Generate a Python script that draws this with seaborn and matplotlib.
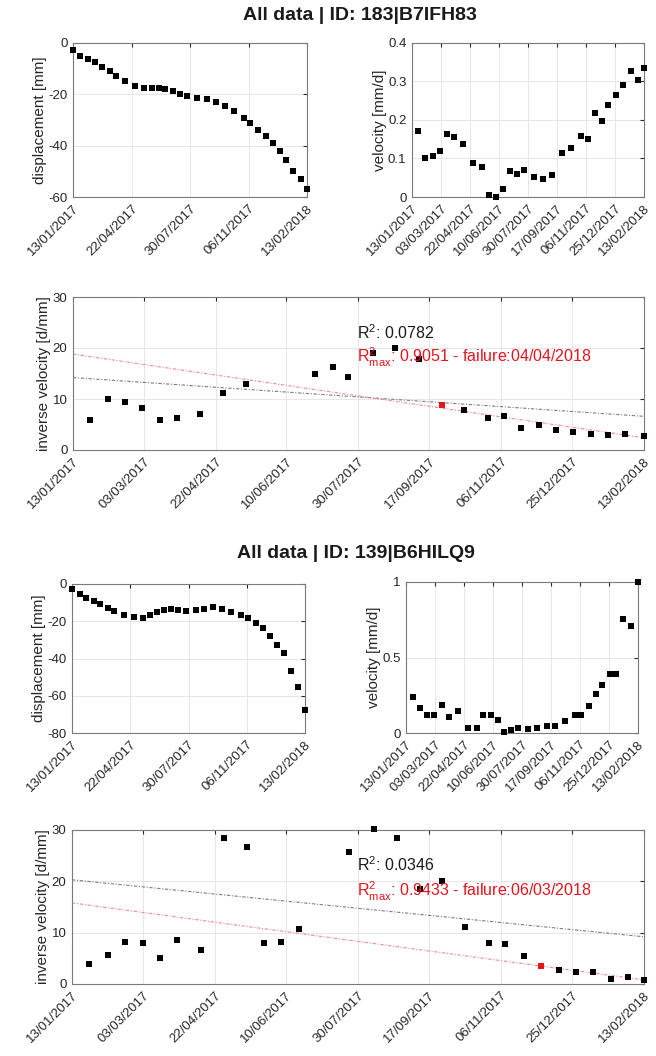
import numpy as np
import pandas as pd
import matplotlib
matplotlib.use('Agg')
import matplotlib.pyplot as plt
from matplotlib.ticker import StrMethodFormatter
import seaborn as sns

start = pd.Timestamp('2017-01-13')
end = pd.Timestamp('2018-02-13')

ticks_disp = ['13/01/2017', '22/04/2017', '30/07/2017', '06/11/2017', '13/02/2018']
ticks_vel = ['13/01/2017', '03/03/2017', '22/04/2017', '10/06/2017', '30/07/2017',
             '17/09/2017', '06/11/2017', '25/12/2017', '13/02/2018']

# ---- ID 183|B7IFH83 (days after 13/01/2017)
disp1_days = [0, 12, 25, 38, 49, 62, 73, 88, 105, 120, 133, 145, 156, 169, 181, 193,
              209, 226, 242, 257, 273, 290, 300, 313, 326, 339, 350, 361, 373, 386, 396]
disp1_vals = [-2.8, -5.2, -6.2, -7.5, -9.3, -11.1, -12.9, -15.0, -16.6, -17.7, -17.7,
              -17.6, -18.0, -18.6, -19.7, -20.6, -21.3, -22.0, -22.9, -24.6, -26.5,
              -29.2, -31.3, -33.8, -36.2, -39.1, -41.9, -45.5, -49.7, -53.0, -56.9]
vel1_days = [10, 23, 35, 47, 59, 72, 87, 104, 119, 132, 144, 156, 167, 179, 192, 208,
             223, 239, 256, 272, 289, 300, 312, 324, 335, 348, 360, 373, 385, 396]
vel1_vals = [0.172, 0.100, 0.107, 0.119, 0.163, 0.155, 0.137, 0.088, 0.078, 0.004,
             0.000, 0.022, 0.068, 0.061, 0.069, 0.052, 0.048, 0.057, 0.113, 0.126,
             0.158, 0.151, 0.218, 0.198, 0.240, 0.266, 0.290, 0.326, 0.305, 0.334]
inv1_days = [12, 24, 36, 48, 60, 72, 88, 104, 120, 168, 180, 191, 208, 223, 240, 256,
             271, 288, 299, 311, 323, 335, 347, 359, 371, 383, 396]
inv1_vals = [5.8, 10.0, 9.4, 8.2, 5.9, 6.3, 7.1, 11.1, 12.9, 14.9, 16.3, 14.3, 19.1,
             20.0, 17.8, 8.8, 7.8, 6.3, 6.7, 4.4, 4.9, 3.9, 3.6, 3.2, 2.9, 3.1, 2.8]
inv1_red = (256, 8.8)
fit1_all = [14.2, 6.6]     # at 13/01/2017 and 13/02/2018
fit1_max = [18.8, 2.4]
r2_1 = '0.0782'
r2max_1 = '0.9051'
failure_1 = '04/04/2018'

# ---- ID 139|B6HILQ9
disp2_days = [0, 13, 24, 37, 48, 61, 72, 88, 105, 121, 132, 144, 156, 168, 181, 193,
              210, 225, 239, 255, 270, 287, 299, 312, 324, 336, 349, 360, 372, 384, 396]
disp2_vals = [-2.8, -5.3, -7.6, -9.1, -10.7, -13.0, -14.4, -16.7, -17.8, -18.1, -16.7,
              -14.8, -13.9, -13.5, -13.9, -14.6, -13.9, -13.5, -12.6, -13.5, -14.8,
              -16.9, -18.5, -21.0, -23.8, -27.7, -32.7, -37.3, -46.6, -55.1, -67.7]
vel2_days = [12, 24, 36, 48, 61, 73, 88, 105, 121, 132, 145, 157, 167, 180, 192, 209,
             224, 240, 255, 271, 288, 299, 312, 324, 335, 348, 359, 371, 384, 396]
vel2_vals = [0.240, 0.164, 0.116, 0.122, 0.184, 0.109, 0.144, 0.033, 0.033, 0.122,
             0.118, 0.087, 0.007, 0.022, 0.031, 0.027, 0.031, 0.049, 0.044, 0.082,
             0.122, 0.122, 0.178, 0.258, 0.320, 0.389, 0.393, 0.756, 0.711, 1.0]
inv2_days = [12, 25, 37, 49, 61, 73, 89, 105, 121, 133, 145, 157, 192, 209, 225, 241,
             256, 272, 289, 300, 313, 325, 337, 349, 361, 373, 385, 396]
inv2_vals = [3.9, 5.7, 8.2, 7.9, 5.1, 8.5, 6.7, 28.4, 26.7, 7.9, 8.1, 10.7, 25.8, 30.2,
             28.4, 18.6, 20.1, 11.1, 7.9, 7.7, 5.4, 3.5, 2.8, 2.3, 2.3, 1.0, 1.3, 0.7]
inv2_red = (325, 3.5)
fit2_all = [20.3, 9.2]
fit2_max = [15.8, 0.8]
r2_2 = '0.0346'
r2max_2 = '0.9433'
failure_2 = '06/03/2018'

sns.set_style('white')
plt.rcParams['font.family'] = ['Liberation Sans', 'DejaVu Sans']
plt.rcParams['mathtext.fontset'] = 'custom'
plt.rcParams['mathtext.rm'] = 'Liberation Sans'
plt.rcParams['axes.unicode_minus'] = False

TXT = '#262626'


def to_dates(days):
    return start + pd.to_timedelta(np.asarray(days), unit='D')


def style(ax, ticks, ylim, yticks, ylabel):
    ax.set_xlim(start, end)
    ax.set_ylim(*ylim)
    ax.set_yticks(yticks)
    ax.yaxis.set_major_formatter(StrMethodFormatter('{x:g}'))
    ax.set_xticks(pd.to_datetime(ticks, format='%d/%m/%Y'))
    ax.set_xticklabels(ticks, rotation=45, ha='right', rotation_mode='anchor')
    ax.set_ylabel(ylabel, fontsize=11, color=TXT, labelpad=1)
    ax.set_xlabel('')
    ax.grid(True, color='#e2e2e2', lw=0.6)
    ax.tick_params(direction='in', length=3, top=True, right=True, labelsize=9.5,
                   colors=TXT, pad=4)
    for s in ax.spines.values():
        s.set_color('#7a7a7a')
        s.set_linewidth(0.8)


def points(ax, days, vals):
    sns.scatterplot(x=to_dates(days), y=vals, ax=ax, marker='s', color='k', s=25,
                    linewidth=0, clip_on=False, zorder=3)


def inverse_panel(ax, days, vals, red, fit_all, fit_max, r2, r2max, failure, ty):
    sns.lineplot(x=to_dates([0, 396]), y=fit_all, ax=ax, color='#7c7c7c', lw=0.8,
                 linestyle=(0, (3, 1.5, 1, 1.5)), zorder=2)
    sns.lineplot(x=to_dates([0, 396]), y=fit_max, ax=ax, color='#f08a8a', lw=0.8,
                 linestyle=(0, (3, 1.5, 1, 1.5)), zorder=2)
    points(ax, days, vals)
    sns.scatterplot(x=to_dates([red[0]]), y=[red[1]], ax=ax, marker='s', color='#e8141c',
                    s=22, linewidth=0, zorder=4)
    tx = to_dates([197])[0]
    ax.text(tx, ty[0], r'$\mathregular{R^2}$: ' + r2, fontsize=11.5, color='#1a1a1a',
            va='center', ha='left', zorder=5)
    ax.text(tx, ty[1], r'$\mathregular{R^2_{max}}$: ' + r2max + ' - failure:' + failure,
            fontsize=11.5, color='#e8141c', va='center', ha='left', zorder=5)
    style(ax, ticks_vel, (0, 30), [0, 10, 20, 30], 'inverse velocity [d/mm]')


W, H = 656, 1056
fig = plt.figure(figsize=(W / 100, H / 100), dpi=100)


def box(x0, y0, x1, y1):
    return fig.add_axes([x0 / W, 1 - y1 / H, (x1 - x0) / W, (y1 - y0) / H])


# first block
fig.text(360 / W, 1 - 15 / H, 'All data | ID: 183|B7IFH83', ha='center', va='center',
         fontsize=14, fontweight='bold', color='#1a1a1a')
ax = box(73, 43, 307, 197)
points(ax, disp1_days, disp1_vals)
style(ax, ticks_disp, (-60, 0), [-60, -40, -20, 0], 'displacement [mm]')

ax = box(412, 43, 644, 197)
points(ax, vel1_days, vel1_vals)
style(ax, ticks_vel, (0, 0.4), [0, 0.1, 0.2, 0.3, 0.4], 'velocity [mm/d]')

ax = box(73, 297, 644, 450)
inverse_panel(ax, inv1_days, inv1_vals, inv1_red, fit1_all, fit1_max,
              r2_1, r2max_1, failure_1, (23.0, 18.2))

# second block
fig.text(356 / W, 1 - 553 / H, 'All data | ID: 139|B6HILQ9', ha='center', va='center',
         fontsize=14, fontweight='bold', color='#1a1a1a')
ax = box(72, 584, 305, 733)
points(ax, disp2_days, disp2_vals)
style(ax, ticks_disp, (-80, 0), [-80, -60, -40, -20, 0], 'displacement [mm]')

ax = box(406, 582, 638, 733)
points(ax, vel2_days, vel2_vals)
style(ax, ticks_vel, (0, 1), [0, 0.5, 1], 'velocity [mm/d]')

ax = box(72, 830, 644, 984)
inverse_panel(ax, inv2_days, inv2_vals, inv2_red, fit2_all, fit2_max,
              r2_2, r2max_2, failure_2, (23.3, 18.0))

fig.savefig('out.png', dpi=100, facecolor='white')
